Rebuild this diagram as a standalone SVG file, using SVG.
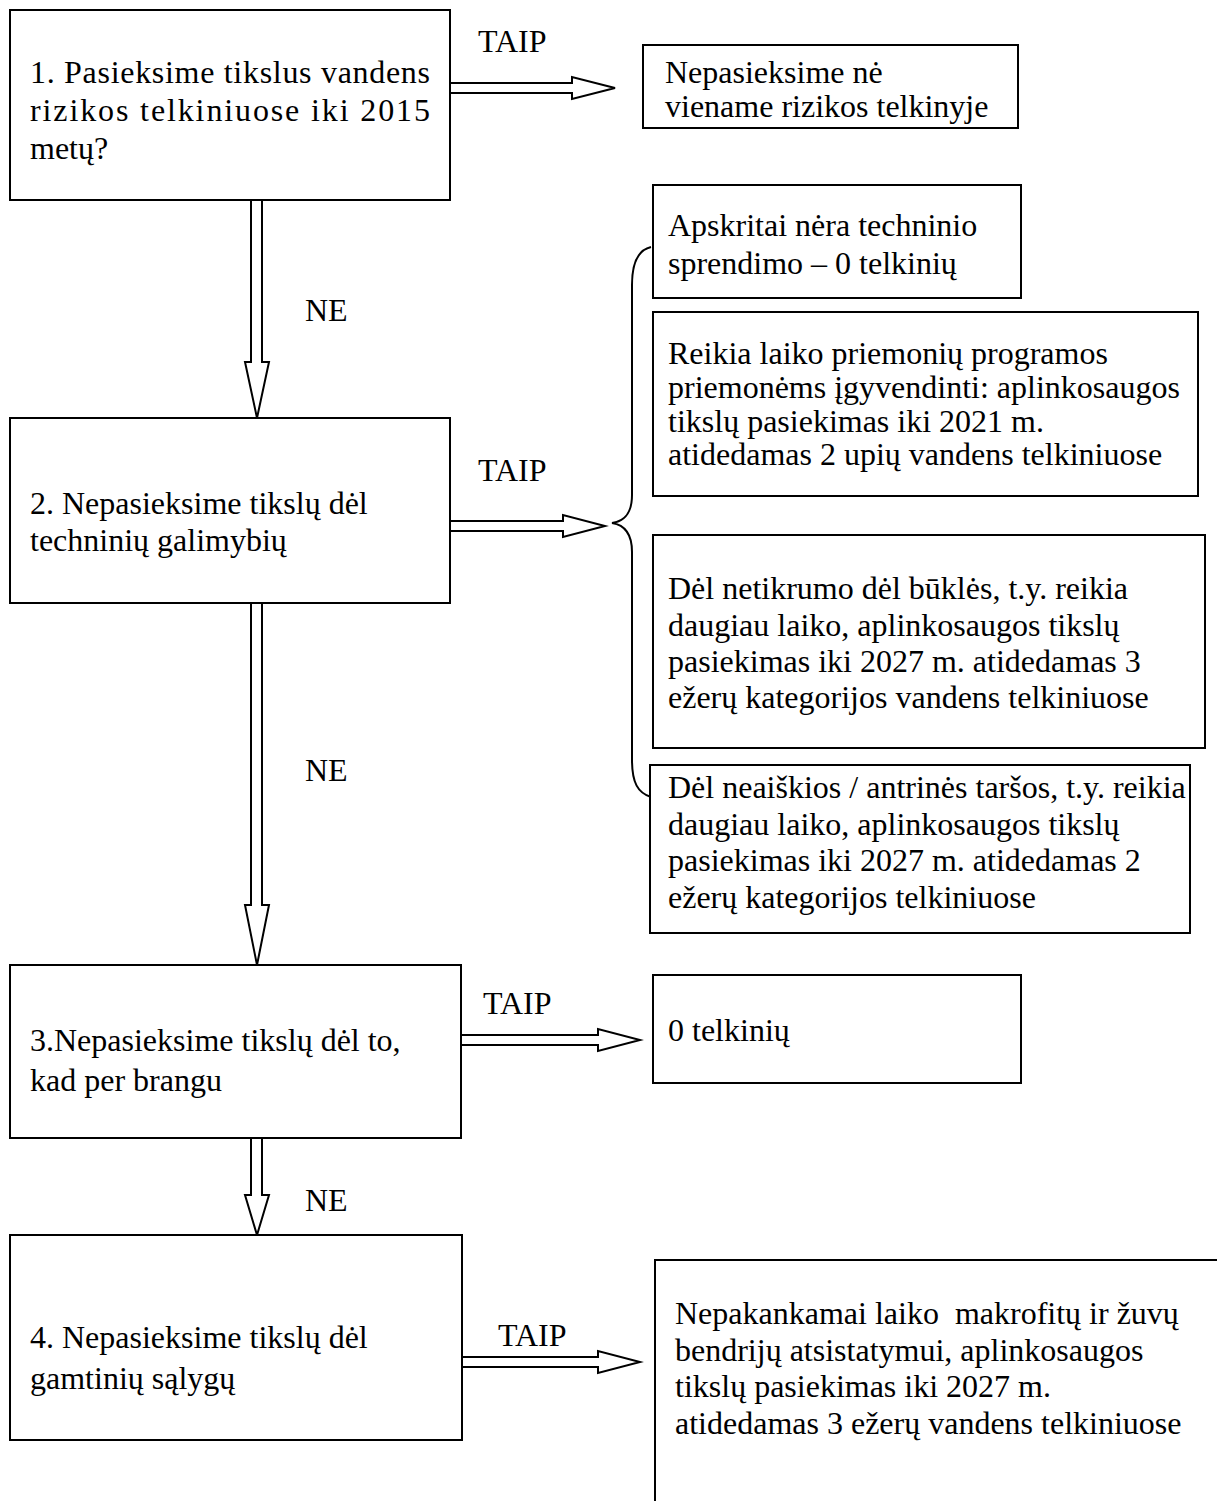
<svg xmlns="http://www.w3.org/2000/svg" width="1217" height="1501" viewBox="0 0 1217 1501">
<style>
.box{fill:#fff;stroke:#000;stroke-width:2}
.arr{fill:#fff;stroke:#000;stroke-width:2;stroke-linejoin:miter}
.br{fill:none;stroke:#000;stroke-width:2}
text{font-family:"Liberation Serif","Times New Roman",serif;font-size:32px;fill:#000}
</style>
<rect width="1217" height="1501" fill="#fff"/>
<g id="connectors">
<polygon class="arr" points="450,83 572,83 572,77 615,88 572,99 572,93 450,93"/>
<polygon class="arr" points="251,200 251,362 245,362 257,418 269,362 262,362 262,200"/>
<polygon class="arr" points="450,521 563,521 563,515 605,526 563,537 563,531 450,531"/>
<path class="br" d="M651 247 C638 250 632 262 632 285 L632 495 C632 513 625 521 612 523 C625 525 632 534 632 552 L632 760 C632 783 638 793 651 797"/>
<polygon class="arr" points="251,603 251,905 245,905 257,965 269,905 262,905 262,603"/>
<polygon class="arr" points="461,1035 598,1035 598,1029 640,1040 598,1051 598,1045 461,1045"/>
<polygon class="arr" points="251,1138 251,1195 245,1195 257,1235 269,1195 262,1195 262,1138"/>
<polygon class="arr" points="462,1357 598,1357 598,1351 640,1362 598,1373 598,1367 462,1367"/>
<text x="478" y="52">TAIP</text>
<text x="305" y="321">NE</text>
<text x="478" y="481">TAIP</text>
<text x="305" y="781">NE</text>
<text x="483" y="1014">TAIP</text>
<text x="305" y="1211">NE</text>
<text x="498" y="1346">TAIP</text>
</g>
<g id="q1">
<rect class="box" x="10" y="10" width="440" height="190"/>
<text x="30" y="83" textLength="400" lengthAdjust="spacing">1. Pasieksime tikslus vandens</text>
<text x="30" y="121" textLength="400" lengthAdjust="spacing">rizikos telkiniuose iki 2015</text>
<text x="30" y="159">metų?</text>
</g>
<g id="r1">
<rect class="box" x="643" y="45" width="375" height="83"/>
<text x="665" y="83">Nepasieksime nė</text>
<text x="665" y="117">viename rizikos telkinyje</text>
</g>
<g id="q2">
<rect class="box" x="10" y="418" width="440" height="185"/>
<text x="30" y="514">2. Nepasieksime tikslų dėl</text>
<text x="30" y="551">techninių galimybių</text>
</g>
<g id="a1">
<rect class="box" x="653" y="185" width="368" height="113"/>
<text x="668" y="236">Apskritai nėra techninio</text>
<text x="668" y="274">sprendimo – 0 telkinių</text>
</g>
<g id="a2">
<rect class="box" x="653" y="312" width="545" height="184"/>
<text x="668" y="364">Reikia laiko priemonių programos</text>
<text x="668" y="398">priemonėms įgyvendinti: aplinkosaugos</text>
<text x="668" y="432">tikslų pasiekimas iki 2021 m.</text>
<text x="668" y="465">atidedamas 2 upių vandens telkiniuose</text>
</g>
<g id="a3">
<rect class="box" x="653" y="535" width="552" height="213"/>
<text x="668" y="599">Dėl netikrumo dėl būklės, t.y. reikia</text>
<text x="668" y="636">daugiau laiko, aplinkosaugos tikslų</text>
<text x="668" y="672">pasiekimas iki 2027 m. atidedamas 3</text>
<text x="668" y="708">ežerų kategorijos vandens telkiniuose</text>
</g>
<g id="a4">
<rect class="box" x="650" y="765" width="540" height="168"/>
<text x="668" y="798">Dėl neaiškios / antrinės taršos, t.y. reikia</text>
<text x="668" y="835">daugiau laiko, aplinkosaugos tikslų</text>
<text x="668" y="871">pasiekimas iki 2027 m. atidedamas 2</text>
<text x="668" y="908">ežerų kategorijos telkiniuose</text>
</g>
<g id="q3">
<rect class="box" x="10" y="965" width="451" height="173"/>
<text x="30" y="1051">3.Nepasieksime tikslų dėl to,</text>
<text x="30" y="1091">kad per brangu</text>
</g>
<g id="r3">
<rect class="box" x="653" y="975" width="368" height="108"/>
<text x="668" y="1041">0 telkinių</text>
</g>
<g id="q4">
<rect class="box" x="10" y="1235" width="452" height="205"/>
<text x="30" y="1348">4. Nepasieksime tikslų dėl</text>
<text x="30" y="1389">gamtinių sąlygų</text>
</g>
<g id="r4">
<rect class="box" x="655" y="1260" width="570" height="260"/>
<text x="675" y="1324" xml:space="preserve">Nepakankamai laiko  makrofitų ir žuvų</text>
<text x="675" y="1361">bendrijų atsistatymui, aplinkosaugos</text>
<text x="675" y="1397">tikslų pasiekimas iki 2027 m.</text>
<text x="675" y="1434">atidedamas 3 ežerų vandens telkiniuose</text>
</g>
</svg>
